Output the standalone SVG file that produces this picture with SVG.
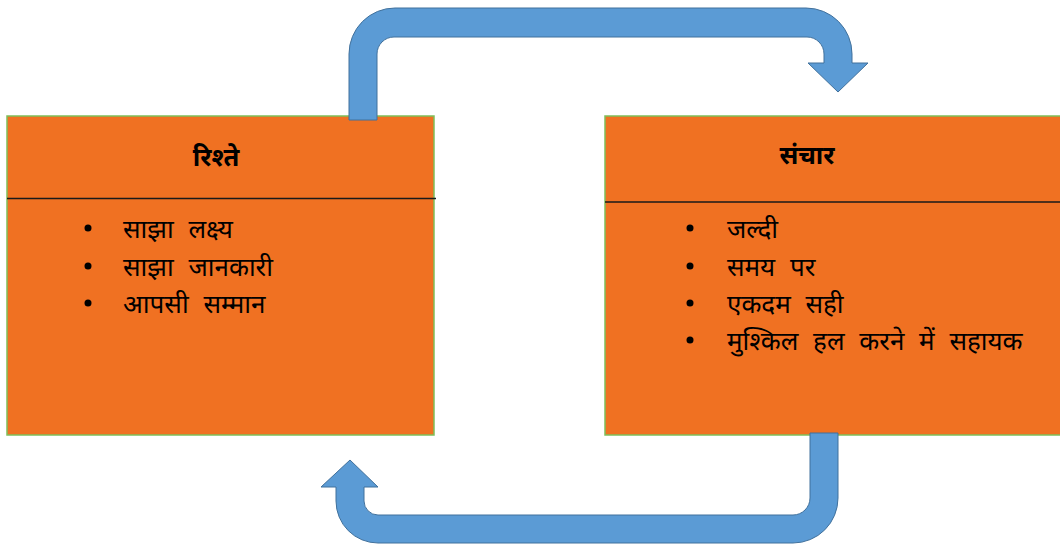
<svg xmlns="http://www.w3.org/2000/svg" width="1060" height="546" viewBox="0 0 1060 546">
<style>
.box{fill:#F07122;stroke:#7FBF5A;stroke-width:1.5}
.div{stroke:#1a1a1a;stroke-width:1.5}
.arrow{fill:#5B9BD5;stroke:#41719C;stroke-width:1}
.title{font-family:"Noto Sans Devanagari","Lohit Devanagari","Noto Sans","DejaVu Sans",sans-serif;font-size:25.5px;font-weight:bold;fill:#000;text-anchor:middle}
.item{font-family:"Noto Sans Devanagari","Lohit Devanagari","Noto Sans","DejaVu Sans",sans-serif;font-size:26px;word-spacing:8px;fill:#000}
.bullet{fill:#000}
</style>
<rect width="1060" height="546" fill="#fff"/>
<g id="node-rishte">
<rect class="box" x="7" y="116" width="427" height="319"/>
<line class="div" x1="7" y1="198.5" x2="436" y2="198.5"/>
<text class="title" x="216" y="166">रिश्ते</text>
<circle class="bullet" cx="88" cy="228" r="3.5"/>
<circle class="bullet" cx="88" cy="266" r="3.5"/>
<circle class="bullet" cx="88" cy="303" r="3.5"/>
<text class="item" x="123" y="238">साझा लक्ष्य</text>
<text class="item" x="123" y="276">साझा जानकारी</text>
<text class="item" x="123" y="313">आपसी सम्मान</text>
</g>
<g id="node-sanchar">
<rect class="box" x="605" y="116" width="460" height="319"/>
<line class="div" x1="605" y1="202" x2="1060" y2="202"/>
<text class="title" x="807" y="164">संचार</text>
<circle class="bullet" cx="690" cy="228" r="3.5"/>
<circle class="bullet" cx="690" cy="266" r="3.5"/>
<circle class="bullet" cx="690" cy="303" r="3.5"/>
<circle class="bullet" cx="690" cy="340" r="3.5"/>
<text class="item" x="727" y="238">जल्दी</text>
<text class="item" x="727" y="276">समय पर</text>
<text class="item" x="727" y="313">एकदम सही</text>
<text class="item" x="727" y="350">मुश्किल हल करने में सहायक</text>
</g>
<g id="connectors">
<path id="arrow-top" class="arrow" d="M349,120 L349,54 A46,46 0 0 1 395,8 L806,8 A46,46 0 0 1 852,54 L852,63 L868,63 L838,92 L808,63 L824,63 L824,54 A17,17 0 0 0 807,37 L394,37 A17,17 0 0 0 377,54 L377,120 Z"/>
<path id="arrow-bottom" class="arrow" d="M810,433 L838,433 L838,498 A45,45 0 0 1 793,543 L378,543 A42,42 0 0 1 336,501 L336,487 L321,487 L350,460 L378,487 L364,487 L364,501 A14,14 0 0 0 378,515 L793,515 A17,17 0 0 0 810,498 Z"/>
</g>
</svg>
